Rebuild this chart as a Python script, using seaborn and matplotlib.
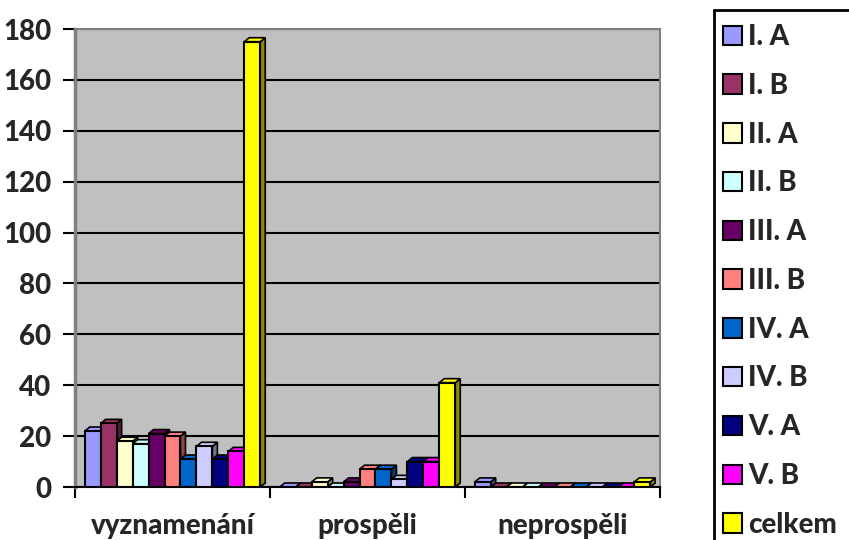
import matplotlib
matplotlib.use("Agg")
import matplotlib.pyplot as plt
import matplotlib.transforms as mtrans
from matplotlib.patches import Polygon, Rectangle
from matplotlib.lines import Line2D
from matplotlib.colors import to_rgb
import seaborn as sns
import pandas as pd

# ---- data ----
categories = ["vyznamenání", "prospěli", "neprospěli"]
classes = ["I. A", "I. B", "II. A", "II. B", "III. A", "III. B",
           "IV. A", "IV. B", "V. A", "V. B", "celkem"]
i_a = [22, 0, 2]
i_b = [25, 0, 0]
ii_a = [18, 2, 0]
ii_b = [17, 0, 0]
iii_a = [21, 2, 0]
iii_b = [20, 7, 0]
iv_a = [11, 7, 0]
iv_b = [16, 3, 0]
v_a = [11, 10, 0]
v_b = [14, 10, 0]
celkem = [175, 41, 2]
y_ticks = [0, 20, 40, 60, 80, 100, 120, 140, 160, 180]

colors = ["#9999FF", "#993366", "#FFFFCC", "#CCFFFF", "#660066", "#FF8080",
          "#0066CC", "#CCCCFF", "#000080", "#FF00FF", "#FFFF00"]

series = [i_a, i_b, ii_a, ii_b, iii_a, iii_b, iv_a, iv_b, v_a, v_b, celkem]
rows = []
for cls, vals in zip(classes, series):
    for cat, v in zip(categories, vals):
        rows.append({"kategorie": cat, "třída": cls, "počet": v})
df = pd.DataFrame(rows)

sns.set_style("white")
plt.rcParams["font.family"] = ["Lato", "DejaVu Sans"]
plt.rcParams["font.weight"] = "black"
FS = 20
FW = "black"

W, H = 849, 540
fig = plt.figure(figsize=(W / 100, H / 100), dpi=100)
ax = fig.add_axes([75 / W, (H - 487) / H, 585 / W, 458 / H])
ax.set_facecolor("#C0C0C0")

palette = dict(zip(classes, colors))
sns.barplot(data=df, x="kategorie", y="počet", hue="třída", order=categories,
            hue_order=classes, palette=palette, width=0.9, gap=0,
            edgecolor="black", linewidth=1.5, saturation=1, ax=ax,
            legend=False, zorder=3)

ax.set_xlim(-0.5, 2.5)
ax.set_ylim(0, 180)
ax.set_yticks(y_ticks)
ax.yaxis.grid(True, color="black", linewidth=1.5, zorder=0)
ax.set_axisbelow(True)
ax.set_xlabel("")
ax.set_ylabel("")

for sp in ["top", "right"]:
    ax.spines[sp].set_color("#808080")
    ax.spines[sp].set_linewidth(1.5)
ax.spines["left"].set_color("#808080")
ax.spines["left"].set_linewidth(2.5)
ax.spines["bottom"].set_color("black")
ax.spines["bottom"].set_linewidth(1.5)

ax.tick_params(axis="y", left=True, length=9, width=1.5, color="black",
               labelsize=FS, pad=8)
ax.tick_params(axis="x", which="major", length=0, labelsize=FS, pad=19)
ax.set_xticks([-0.5, 0.5, 1.5, 2.5], minor=True)
ax.tick_params(axis="x", which="minor", bottom=True, length=8, width=1.5,
               color="black")
for lab in ax.get_xticklabels() + ax.get_yticklabels():
    lab.set_fontweight(FW)

# ---- pseudo-3D faces derived from the bar geometry ----
fig.canvas.draw()
dx, dy = 5, 4
bars = [p for p in ax.patches if isinstance(p, Rectangle)]
for p in bars:
    x0, y0 = p.get_x(), p.get_y()
    w, h = p.get_width(), p.get_height()
    (px0, py0) = ax.transData.transform((x0, y0))
    (px1, py1) = ax.transData.transform((x0 + w, y0 + h))
    fc = to_rgb(p.get_facecolor()[:3])
    dark = tuple(c * 0.55 for c in fc)
    top = Polygon([(px0, py1), (px1, py1), (px1 + dx, py1 + dy),
                   (px0 + dx, py1 + dy)], closed=True, facecolor=fc,
                  edgecolor="black", linewidth=1.2,
                  transform=mtrans.IdentityTransform(), zorder=2.5,
                  clip_on=False)
    side = Polygon([(px1, py0), (px1 + dx, py0 + dy), (px1 + dx, py1 + dy),
                    (px1, py1)], closed=True, facecolor=dark,
                   edgecolor="black", linewidth=1.2,
                   transform=mtrans.IdentityTransform(), zorder=2.5,
                   clip_on=False)
    ax.add_artist(side)
    ax.add_artist(top)

# ---- legend ----
handles = [Rectangle((0, 0), 1, 1, facecolor=c, edgecolor="black",
                     linewidth=1.5) for c in colors]
leg = fig.legend(handles, classes, loc="upper left",
                 bbox_to_anchor=(723 / W, 1 - 24 / H),
                 frameon=False, prop={"weight": FW, "size": FS},
                 handlelength=0.7, handleheight=0.7, handletextpad=0.2,
                 labelspacing=0.82, borderpad=0, borderaxespad=0)
fig.add_artist(Line2D([714 / W, 714 / W], [0, 1 - 10 / H],
                      transform=fig.transFigure, color="black", linewidth=2))
fig.add_artist(Line2D([714 / W, 1.0], [1 - 10 / H, 1 - 10 / H],
                      transform=fig.transFigure, color="black", linewidth=2))

fig.savefig("out.png", dpi=100)
